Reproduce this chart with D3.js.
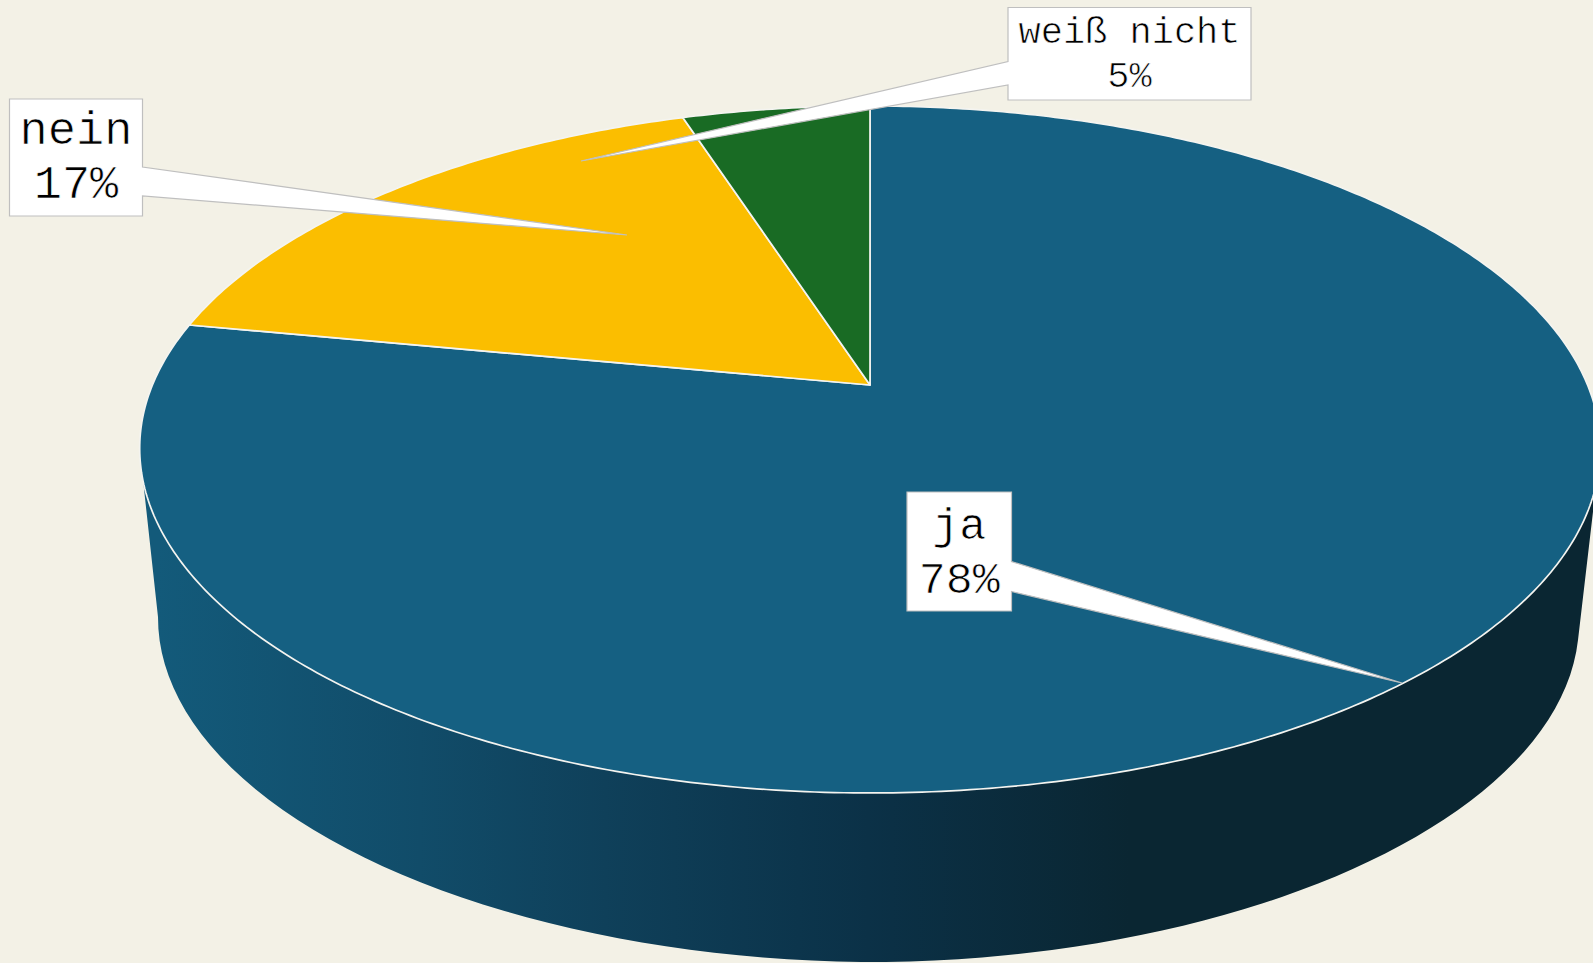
<!DOCTYPE html>
<html>
<head>
<meta charset="utf-8">
<script src="https://cdn.jsdelivr.net/npm/d3@7"></script>
<style>
	html, body { margin: 0; padding: 0; background: #f3f1e6; overflow: hidden; }
	svg { display: block; }
</style>
</head>
<body>
<div id="chart"></div>
<script>
// Werte aus dem Bild
var categories = ["ja", "nein", "weiß nicht"];
var values = [78, 17, 5];
var percentLabels = ["78%", "17%", "5%"];
var colors = ["#156082", "#fbbe00", "#196b24"];

var width = 1593, height = 963;

// Perspektive der Deckfläche: Mittelpunkt, Halbachsen, Verkürzung
var apexX = 870, apexY = 385, axisX = 714, axisY = 331.4, foreshorten = 0.1877;

// Untere Kante des Zylinders (leicht gekippt)
var baseX = 868, baseY = 628.5, baseRx = 710, baseTilt = 11.5, baseShear = 18, baseRy = 338;

var svg = d3.select("#chart").append("svg")
	.attr("width", width)
	.attr("height", height);

svg.append("rect")
	.attr("width", width)
	.attr("height", height)
	.attr("fill", "#f3f1e6");

// Winkel: 0 = oben, im Uhrzeigersinn
function project(a, r) {
	var u = Math.sin(a) * r, v = -Math.cos(a) * r;
	var w = 1 - foreshorten * v;
	var bulge = 1 + 0.005 * Math.pow(u, 4);
	return [apexX + axisX * u * bulge / w, apexY + axisY * v / w];
}

function basePoint(t) {
	var e = t < Math.PI / 2 ? 0.033 : 0.02;
	var f = 1 - e * Math.sin(2 * t) - 0.013 * Math.sin(t);
	return [
		baseX + f * (baseRx * Math.cos(t) + baseShear * Math.sin(t)),
		baseY + f * (baseTilt * Math.cos(t) + baseRy * Math.sin(t))
	];
}

var line = d3.line();

// Seitenwand
var defs = svg.append("defs");
var grad = defs.append("linearGradient")
	.attr("id", "wall")
	.attr("gradientUnits", "userSpaceOnUse")
	.attr("x1", 158).attr("x2", 1130)
	.attr("y1", 0).attr("y2", 0);

[[0, "#135a7a"], [0.27, "#114c69"], [0.46, "#0f405a"], [0.73, "#0b3147"], [1, "#0a2632"]].forEach(function(s) {
	grad.append("stop").attr("offset", s[0]).attr("stop-color", s[1]);
});

// äußerste Punkte der Deckfläche links und rechts
var rightTop = project(Math.acos(-foreshorten), 1);
var leftTop = project(Math.PI * 2 - Math.acos(-foreshorten), 1);

var wallPts = [leftTop];
d3.range(180, -1, -2).forEach(function(deg) {
	wallPts.push(basePoint(deg * Math.PI / 180));
});
wallPts.push(rightTop);

svg.append("path")
	.attr("d", line(wallPts) + "Z")
	.attr("fill", "url(#wall)");

// Tortenstücke
var pie = d3.pie().sort(null);
var arcs = pie(values);

function slicePath(d) {
	var n = Math.max(2, Math.ceil((d.endAngle - d.startAngle) * 90));
	var pts = d3.range(n + 1).map(function(i) {
		return project(d.startAngle + (d.endAngle - d.startAngle) * i / n, 1);
	});
	pts.unshift(project(0, 0));
	return line(pts) + "Z";
}

svg.selectAll("path.slice")
	.data(arcs)
	.enter()
	.append("path")
	.attr("class", "slice")
	.attr("d", slicePath)
	.attr("fill", function(d, i) { return colors[i]; })
	.attr("stroke", "#f4f4f0")
	.attr("stroke-width", 1.7)
	.attr("stroke-linejoin", "round");

// Beschriftungen mit Zeiger
var boxes = [
	{x0: 907, x1: 1011.5, y0: 492, y1: 611, notch: [561.5, 591.5], side: "right", tip: [1402, 683], size: 45, base: [539, 593]},
	{x0: 9.5, x1: 142.5, y0: 99, y1: 216, notch: [167, 196], side: "right", tip: [627, 235], size: 47, base: [144, 198]},
	{x0: 1008, x1: 1251, y0: 7.5, y1: 100, notch: [61.5, 85], side: "left", tip: [581, 161], size: 37, base: [43, 87]}
];

function calloutPath(b) {
	var pts;
	if (b.side == "right") {
		pts = [[b.x0, b.y0], [b.x1, b.y0], [b.x1, b.notch[0]], b.tip, [b.x1, b.notch[1]], [b.x1, b.y1], [b.x0, b.y1]];
	} else {
		pts = [[b.x0, b.y0], [b.x1, b.y0], [b.x1, b.y1], [b.x0, b.y1], [b.x0, b.notch[1]], b.tip, [b.x0, b.notch[0]]];
	}
	return line(pts) + "Z";
}

function label(g, x, y, size, txt) {
	// weißer Rand macht die Schrift dünner, wie im Original
	g.append("text")
		.attr("x", x).attr("y", y)
		.attr("text-anchor", "middle")
		.attr("font-family", "'Liberation Mono', monospace")
		.attr("font-size", size)
		.attr("fill", "#000")
		.attr("stroke", "white")
		.attr("stroke-width", 0.7)
		.text(txt);
}

boxes.forEach(function(b, i) {
	var g = svg.append("g");
	var cx = (b.x0 + b.x1) / 2;

	g.append("path")
		.attr("d", calloutPath(b))
		.attr("fill", "white")
		.attr("stroke", "#bfbfbf")
		.attr("stroke-width", 1.2);

	label(g, cx, b.base[0], b.size, categories[i]);
	label(g, cx, b.base[1], b.size, percentLabels[i]);
});
</script>
</body>
</html>
